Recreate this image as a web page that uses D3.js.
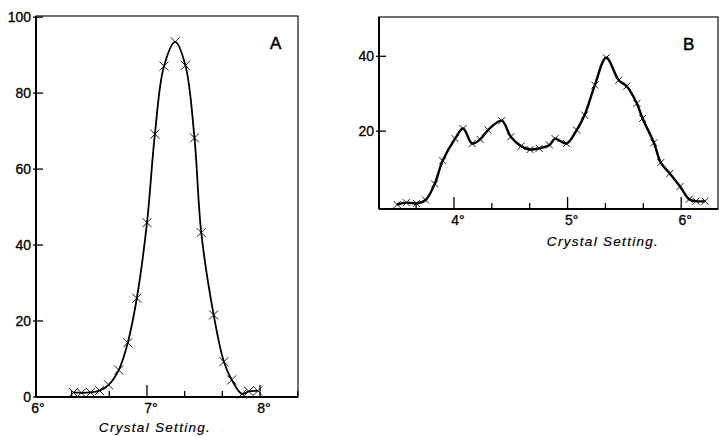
<!DOCTYPE html>
<html>
<head>
<meta charset="utf-8">
<script src="https://cdn.jsdelivr.net/npm/d3@7"></script>
<style>
  body { margin: 0; background: #fff; }
  svg { display: block; font-family: "Liberation Sans", Arial, sans-serif; }
</style>
</head>
<body>
<svg id="chart" width="719" height="436"></svg>
<script>
// panel A readings (crystal setting in degrees, intensity)
const settingsA = [6.35, 6.42, 6.50, 6.58, 6.66, 6.75, 6.83, 6.91, 7.00, 7.07, 7.15, 7.25, 7.34, 7.42, 7.48, 7.59, 7.68, 7.75, 7.84, 7.90, 7.98];
const valuesA   = [1.2, 1.1, 1.2, 1.7, 3.2, 7.1, 14.3, 26.0, 45.9, 69.2, 87.1, 93.5, 87.3, 68.2, 43.3, 21.6, 9.3, 4.5, 0.8, 1.5, 1.6];

// panel B readings
const settingsB = [3.50, 3.58, 3.67, 3.75, 3.83, 3.90, 4.01, 4.08, 4.16, 4.23, 4.30, 4.42, 4.50, 4.59, 4.67, 4.75, 4.84, 4.89, 4.99, 5.08, 5.15, 5.24, 5.34, 5.45, 5.52, 5.61, 5.66, 5.76, 5.82, 5.90, 5.99, 6.07, 6.13, 6.21];
const valuesB   = [0.4, 0.9, 0.7, 1.6, 5.9, 12.1, 18.0, 20.7, 16.7, 17.8, 20.3, 22.8, 18.5, 16.0, 15.1, 15.4, 16.3, 18.0, 16.7, 20.3, 24.3, 32.3, 39.6, 33.6, 32.0, 27.4, 23.4, 16.9, 11.6, 8.7, 5.2, 1.8, 1.3, 1.3];

const yTicksA = [0, 20, 40, 60, 80, 100];
const yTicksB = [20, 40];
const degTicksA = [6, 7, 8];
const degTicksB = [4, 5, 6];
const xLabel = 'Crystal Setting.';

const svg = d3.select('#chart');

const panel = (o) => {
    const x = d3.scaleLinear().domain(o.xDomain).range([o.left, o.right]);
    const y = d3.scaleLinear().domain(o.yDomain).range([o.bottom, o.top]);
    const g = svg.append('g');

    // frame
    g.append('rect')
        .attr('x', o.left).attr('y', o.top)
        .attr('width', o.right - o.left).attr('height', o.bottom - o.top)
        .attr('fill', 'none').attr('stroke', '#111').attr('stroke-width', 1.2);
    g.append('line')
        .attr('x1', o.left).attr('x2', o.left).attr('y1', o.top).attr('y2', o.bottom)
        .attr('stroke', '#000').attr('stroke-width', 2);
    g.append('line')
        .attr('x1', o.left).attr('x2', o.right).attr('y1', o.bottom).attr('y2', o.bottom)
        .attr('stroke', '#000').attr('stroke-width', 2);

    // y ticks
    g.selectAll('.yt').data(o.yTicks).enter().append('line')
        .attr('x1', o.left - 3).attr('x2', o.left + 7)
        .attr('y1', d => y(d)).attr('y2', d => y(d))
        .attr('stroke', '#000').attr('stroke-width', 1.3);
    g.selectAll('.yl').data(o.yTicks).enter().append('text')
        .attr('x', o.left - 5).attr('y', d => y(d) + 5)
        .attr('text-anchor', 'end')
        .attr('font-size', 14)
        .attr('stroke', '#000').attr('stroke-width', 0.3)
        .text(d => d);

    // x ticks every 20 minutes of arc, taller at whole degrees
    const minor = d3.range(Math.ceil(o.xDomain[0] * 3), Math.floor(o.xDomain[1] * 3) + 1).map(k => k / 3);
    g.selectAll('.xt').data(minor).enter().append('line')
        .attr('x1', d => x(d)).attr('x2', d => x(d))
        .attr('y1', o.bottom)
        .attr('y2', d => Math.abs(d - Math.round(d)) < 0.01 ? o.bottom - 12 : o.bottom - 6)
        .attr('stroke', '#000').attr('stroke-width', 1.3);
    g.selectAll('.xl').data(o.degTicks).enter().append('text')
        .attr('x', d => x(d) + 4).attr('y', o.bottom + o.labelGap)
        .attr('text-anchor', 'middle')
        .attr('font-size', 14)
        .attr('stroke', '#000').attr('stroke-width', 0.3)
        .text(d => d + '°');
    g.append('text')
        .attr('x', o.titleX).attr('y', o.bottom + o.titleGap)
        .attr('text-anchor', 'middle')
        .attr('font-size', 13.5)
        .attr('font-style', 'italic')
        .attr('letter-spacing', 1.3)
        .attr('stroke', '#000').attr('stroke-width', 0.2)
        .text(xLabel);
    g.append('text')
        .attr('x', o.tagX).attr('y', o.tagY)
        .attr('font-size', 17)
        .attr('stroke', '#000').attr('stroke-width', 0.5)
        .text(o.tag);

    const pts = o.xs.map((d, i) => [d, o.ys[i]]);
    const line = d3.line()
        .x(d => x(d[0])).y(d => y(d[1]))
        .curve(d3.curveCatmullRom.alpha(0.5));
    g.append('path')
        .datum(pts)
        .attr('d', line)
        .attr('fill', 'none').attr('stroke', '#000')
        .attr('stroke-width', o.lineWidth).attr('stroke-linejoin', 'round');

    const s = o.cross;
    g.selectAll('.pt').data(pts).enter().append('path')
        .attr('d', d => {
            const cx = x(d[0]), cy = y(d[1]);
            return `M${cx - s},${cy - s}L${cx + s},${cy + s}M${cx - s},${cy + s}L${cx + s},${cy - s}`;
        })
        .attr('stroke', '#000').attr('stroke-width', 0.9).attr('fill', 'none');
};

panel({
    left: 36, right: 298, top: 16, bottom: 397,
    xDomain: [6.018, 8.336], yDomain: [0, 100.3],
    yTicks: yTicksA, degTicks: degTicksA,
    xs: settingsA, ys: valuesA,
    labelGap: 16, titleGap: 35, titleX: 155,
    tag: 'A', tagX: 270, tagY: 49,
    lineWidth: 1.8, cross: 4.5
});

panel({
    left: 379, right: 718, top: 17, bottom: 209,
    xDomain: [3.34, 6.324], yDomain: [-0.8, 50.5],
    yTicks: yTicksB, degTicks: degTicksB,
    xs: settingsB, ys: valuesB,
    labelGap: 16, titleGap: 37, titleX: 603,
    tag: 'B', tagX: 683, tagY: 50,
    lineWidth: 2.4, cross: 3.5
});
</script>
</body>
</html>
